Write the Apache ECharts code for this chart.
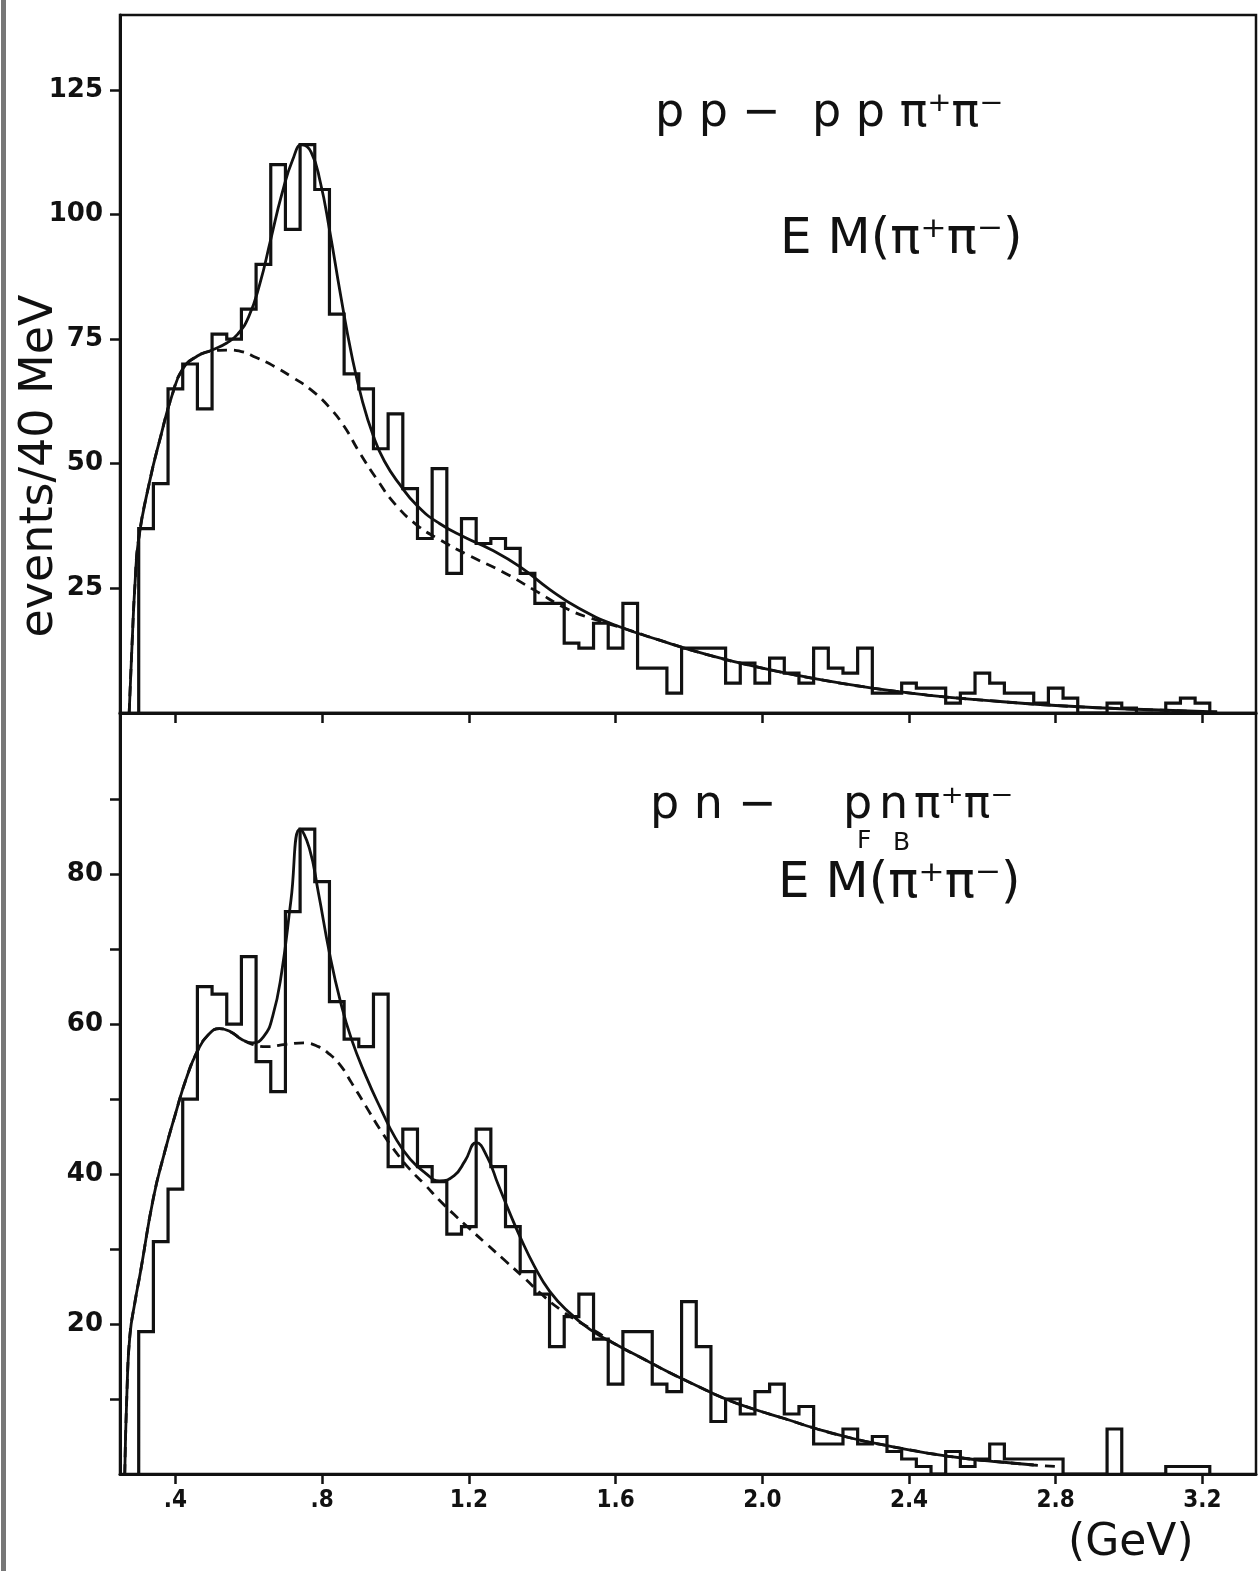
<!DOCTYPE html>
<html><head><meta charset="utf-8">
<script src="https://cdn.jsdelivr.net/npm/echarts@6/dist/echarts.min.js"></script>
<style>html,body{margin:0;padding:0;background:#fff}#c{width:1260px;height:1571px}</style>
</head><body><div id="c"></div>
<script>
// ---- data ----
const binWidth = 0.04;            // GeV (40 MeV bins)
const firstBinCenter = 0.32;      // GeV
// pp -> pp pi+ pi-  (counts per 40 MeV)
const ppCounts = [37,46,65,70,61,76,75,81,90,110,97,114,105,80,68,65,53,60,45,35,
  49,28,39,34,35,33,28,22,22,14,13,18,13,22,9,9,4,13,13,13,
  6,10,6,11,8,6,13,9,8,13,4,4,6,5,5,2,4,8,6,4,
  4,2,5,3,0,0,2,1,0,0,2,3,2];
// pn -> p_F n_B pi+ pi-
const pnCounts = [19,31,38,50,65,64,60,69,55,51,75,86,79,63,58,57,64,41,46,41,
  39,32,33,46,41,33,27,24,17,21,24,18,12,19,19,12,11,23,17,7,
  10,8,11,12,8,9,4,4,6,4,5,3,2,1,0,3,1,2,4,2,
  2,2,2,0,0,0,6,0,0,0,1,1,1];
// fitted curves (solid) and background (dashed), [GeV, events]
const ppFit = [[0.274,0],[0.282,14],[0.29,26],[0.30,35],[0.33,46.5],[0.36,55.5],[0.39,63.5],[0.42,69],[0.46,71.6],
  [0.50,72.8],[0.54,74.2],[0.57,76],[0.60,79.5],[0.63,86],[0.66,95],[0.69,104],[0.72,111],[0.745,114],[0.77,112.5],
  [0.795,106.5],[0.82,97],[0.85,84],[0.88,72],[0.91,62.5],[0.94,55.5],[0.97,50.5],[1.01,46],[1.06,41.5],[1.12,38],
  [1.19,35.2],[1.26,32.8],[1.34,29.3],[1.42,24.8],[1.50,21],[1.60,17.6],[1.72,14.6],[1.86,11.5],[2.0,9],[2.15,6.8],
  [2.3,5],[2.45,3.6],[2.6,2.6],[2.8,1.5],[3.0,0.8],[3.24,0.2]];
const ppBackground = [[0.274,0],[0.282,14],[0.29,26],[0.30,35],[0.33,46.5],[0.36,55.5],[0.39,63.5],[0.42,69],[0.46,71.6],
  [0.50,72.6],[0.54,72.8],[0.58,72.5],[0.62,71.3],[0.67,69.5],[0.72,67.3],[0.77,64.8],[0.82,61.3],[0.86,57.5],
  [0.90,52.5],[0.95,46.8],[1.00,41.8],[1.06,37.6],[1.12,34.8],[1.20,31.6],[1.29,28.4],[1.38,24.6],[1.47,20.8],
  [1.55,18.6],[1.63,16.8],[1.72,14.6],[1.86,11.5],[2.0,9],[2.15,6.8],[2.3,5],[2.45,3.6],[2.6,2.6],[2.8,1.5],
  [3.0,0.8],[3.24,0.2]];
const pnFit = [[0.262,0],[0.268,11],[0.276,18.5],[0.29,23],[0.305,27],[0.34,36.8],[0.37,42.8],[0.40,48],[0.43,52.8],
  [0.46,56.4],[0.49,58.6],[0.52,59.4],[0.55,59],[0.58,58],[0.61,57.5],[0.64,58.3],[0.665,61],[0.69,67],[0.715,76.5],
  [0.74,86],[0.765,83.5],[0.79,77.5],[0.82,69.5],[0.85,63],[0.88,58],[0.92,53],[0.96,48.7],[1.00,44.8],[1.04,42],
  [1.08,40.2],[1.12,39.1],[1.16,39.8],[1.19,41.8],[1.22,44.2],[1.25,42.3],[1.28,38.6],[1.31,35],[1.34,31.6],
  [1.38,27.6],[1.42,24.4],[1.47,21.7],[1.53,19.3],[1.60,17.3],[1.67,15.5],[1.74,13.7],[1.82,11.8],[1.90,10],
  [1.98,8.6],[2.06,7.4],[2.15,6],[2.25,4.7],[2.35,3.7],[2.45,2.8],[2.55,2.1],[2.65,1.6],[2.74,1.2]];
const pnBackground = [[0.262,0],[0.268,11],[0.276,18.5],[0.29,23],[0.305,27],[0.34,36.8],[0.37,42.8],[0.40,48],
  [0.43,52.8],[0.46,56.4],[0.49,58.6],[0.52,59.4],[0.55,59],[0.58,58],[0.61,57.3],[0.65,57],[0.70,57.3],[0.75,57.5],
  [0.79,57],[0.82,56],[0.85,54.5],[0.88,52.2],[0.92,49],[0.96,45.8],[1.00,43],[1.04,40.6],[1.08,38.6],[1.12,36.5],
  [1.16,34.6],[1.20,32.8],[1.25,30.6],[1.30,28.4],[1.35,26.2],[1.40,23.9],[1.45,21.9],[1.50,20.3],[1.55,18.9],
  [1.60,17.3],[1.67,15.5],[1.74,13.7],[1.82,11.8],[1.90,10],[1.98,8.6],[2.06,7.4],[2.15,6],[2.25,4.7],[2.35,3.7],
  [2.45,2.8],[2.55,2.1],[2.65,1.6],[2.74,1.2],[2.80,1.0]];
// axes
const xTicks = [0.4,0.8,1.2,1.6,2.0,2.4,2.8,3.2];
const xTickLabels = ['.4','.8','1.2','1.6','2.0','2.4','2.8','3.2'];
const ppYTicks = [25,50,75,100,125];
const pnYTicks = [10,20,30,40,50,60,70,80,90];
const pnYLabels = [20,40,60,80];

// ---- build ----
function outline(counts){
  const pts = [];
  let hi = 0;
  counts.forEach((c,i)=>{
    const lo = +(firstBinCenter - binWidth/2 + i*binWidth).toFixed(4);
    hi = +(lo + binWidth).toFixed(4);
    if(i===0) pts.push([lo,0]);
    pts.push([lo,c],[hi,c]);
  });
  pts.push([hi,0]);
  return pts;
}
const INK = '#111';
const X_MIN = 0.249, X_MAX = 3.346;
function xAxis(g, labels){
  return {gridIndex:g, type:'value', min:X_MIN, max:X_MAX,
    axisLine:{show:true, onZero:false, lineStyle:{color:INK, width:3}},
    axisTick:{show:true, customValues:xTicks, length:10, lineStyle:{color:INK, width:2.5}},
    axisLabel:{show:labels, customValues:xTicks, margin:15, color:INK,
      fontFamily:"'DejaVu Sans Condensed','DejaVu Sans'", fontWeight:'bold', fontSize:24,
      formatter:(v)=>{const i = xTicks.findIndex(t=>Math.abs(t-v)<1e-6); return i>=0?xTickLabels[i]:'';}},
    splitLine:{show:false}};
}
function yAxis(g, max, ticks, labels){
  return {gridIndex:g, type:'value', min:0, max:max,
    axisLine:{show:true, lineStyle:{color:INK, width:3}},
    axisTick:{show:true, customValues:ticks, length:10, lineStyle:{color:INK, width:2.5}},
    axisLabel:{show:true, customValues:labels, margin:17, color:INK,
      fontFamily:'DejaVu Sans', fontWeight:'bold', fontSize:26},
    splitLine:{show:false}};
}
function hist(g, counts){
  return {type:'line', xAxisIndex:g, yAxisIndex:g, data:outline(counts), symbol:'none',
    lineStyle:{color:INK, width:3.2, join:'miter'}, z:2, silent:true};
}
function curve(g, pts, dashed){
  return {type:'line', xAxisIndex:g, yAxisIndex:g, data:pts, symbol:'none', smooth:0.5,
    lineStyle:{color:INK, width:2.8, type: dashed ? [10,7] : 'solid'}, z: dashed ? 3 : 4, silent:true};
}
const font = (s)=> s + "px 'DejaVu Sans'";
function txt(x, y, text, size, extra){
  return Object.assign({type:'text', x:x, y:y, silent:true,
    style:{text:text, font:font(size), fill:INK, textAlign:'left', align:'left',
      textVerticalAlign:'middle', verticalAlign:'middle'}}, extra||{});
}

const chart = echarts.init(document.getElementById('c'), null, {renderer:'canvas'});
chart.setOption({
  animation:false,
  backgroundColor:'#fff',
  grid:[
    {left:120, right:4, top:15, height:698, show:true, borderColor:INK, borderWidth:2.5},
    {left:120, right:4, top:713, height:761, show:true, borderColor:INK, borderWidth:2.5}
  ],
  xAxis:[xAxis(0,false), xAxis(1,true)],
  yAxis:[yAxis(0,140,ppYTicks,ppYTicks), yAxis(1,101.5,pnYTicks,pnYLabels)],
  series:[
    hist(0, ppCounts), curve(0, ppFit, false), curve(0, ppBackground, true),
    hist(1, pnCounts), curve(1, pnFit, false), curve(1, pnBackground, true)
  ],
  graphic:[
    {type:'rect', silent:true, shape:{x:1, y:0, width:5, height:1571}, style:{fill:'#777'}},
    txt(655, 114, 'p p', 46),
    txt(742, 114, '\u2212', 46),
    txt(812, 114, 'p p \u03c0\u207a\u03c0\u207b', 46),
    txt(780, 240, 'E M(\u03c0\u207a\u03c0\u207b)', 50),
    txt(650, 806, 'p n', 46),
    txt(738, 806, '\u2212', 46),
    txt(843, 806, 'p', 46),
    txt(879, 806, 'n', 46),
    txt(914, 806, '\u03c0\u207a\u03c0\u207b', 44),
    txt(857, 841, 'F', 25),
    txt(893, 843, 'B', 25),
    txt(778, 884, 'E M(\u03c0\u207a\u03c0\u207b)', 50),
    txt(1068, 1544, '(GeV)', 44),
    {type:'text', x:40, y:466, rotation:Math.PI/2, silent:true,
      style:{text:'events/40 MeV', font:font(46), fill:INK, textAlign:'center', align:'center',
        textVerticalAlign:'middle', verticalAlign:'middle'}}
  ]
});
</script></body></html>
